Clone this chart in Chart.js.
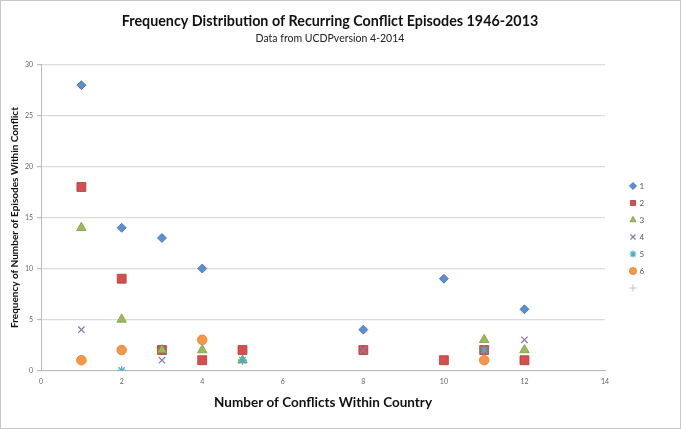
<!DOCTYPE html>
<html>
<head>
<meta charset="utf-8">
<script src="https://cdn.jsdelivr.net/npm/chart.js@4/dist/chart.umd.min.js"></script>
<style>
  html, body { margin: 0; padding: 0; background: #fff; }
  #wrap { width: 681px; height: 429px; box-sizing: border-box; border: 1px solid #c8c8c8; }
  canvas { display: block; }
</style>
</head>
<body>
<div id="wrap"><canvas id="myChart" width="679" height="427"></canvas></div>
<script>
// series data: [number of conflicts, frequency]
var labels = ['1', '2', '3', '4', '5', '6', ''];
var serie1 = [[1, 28], [2, 14], [3, 13], [4, 10], [8, 4], [10, 9], [12, 6]];
var serie2 = [[1, 18], [2, 9], [3, 2], [4, 1], [5, 2], [8, 2], [10, 1], [11, 2], [12, 1]];
var serie3 = [[1, 14], [2, 5], [3, 2], [4, 2], [5, 1], [11, 3], [12, 2]];
var serie4 = [[1, 4], [3, 1], [8, 2], [12, 3]];
var serie5 = [[2, 0], [5, 1], [11, 2]];
var serie6 = [[1, 1], [2, 2], [4, 3], [11, 1]];
var serie7 = [];

var toXY = (arr) => arr.map(p => ({ x: p[0], y: p[1] }));

// legend a la derecha: ancho fijo y bajado un poco, como en el original
const legendLayout = {
    id: 'legendLayout',
    beforeInit(chart) {
        const legend = chart.legend;
        const fitOrig = legend.fit;
        legend.fit = function () {
            fitOrig.call(this);
            this.width = 50;
        };
    },
    afterLayout(chart) {
        chart.legend.left += 16.5;
        chart.legend.top += 54;
    }
};

var ctx = document.getElementById('myChart').getContext('2d');
var myChart = new Chart(ctx, {
    type: 'scatter',
    data: {
        datasets: [
            { label: labels[0], data: toXY(serie1), order: 7, pointStyle: 'rectRot', radius: 4.5, backgroundColor: '#5b8fd4', borderColor: '#3f6fb0', borderWidth: 0.8 },
            { label: labels[1], data: toXY(serie2), order: 6, pointStyle: 'rect', radius: 6.3, backgroundColor: '#d4504e', borderColor: '#b03c3a', borderWidth: 0.8 },
            { label: labels[2], data: toXY(serie3), order: 5, pointStyle: 'triangle', radius: 5.5, backgroundColor: '#9bbb59', borderColor: '#7d9a45', borderWidth: 0.8 },
            { label: labels[3], data: toXY(serie4), order: 4, pointStyle: 'crossRot', radius: 4.5, backgroundColor: '#8a78b0', borderColor: '#8a78b0', borderWidth: 1.2 },
            { label: labels[4], data: toXY(serie5), order: 3, pointStyle: 'star', radius: 4.5, backgroundColor: '#4bacc6', borderColor: '#4bacc6', borderWidth: 1.2 },
            { label: labels[5], data: toXY(serie6), order: 2, pointStyle: 'circle', radius: 4.8, backgroundColor: '#f79646', borderColor: '#e07f30', borderWidth: 0.8 },
            { label: labels[6], data: toXY(serie7), order: 1, pointStyle: 'cross', radius: 4, backgroundColor: '#a9c6e8', borderColor: '#a9c6e8', borderWidth: 1 }
        ]
    },
    plugins: [legendLayout],
    options: {
        responsive: false,
        animation: false,
        layout: { padding: { left: 4, right: 25, top: 4, bottom: 13 } },
        plugins: {
            title: {
                display: true,
                text: 'Frequency Distribution of Recurring Conflict Episodes 1946-2013',
                color: '#111',
                font: { family: 'Lato', size: 14.3, weight: 'bold' },
                padding: { top: 8, bottom: 2 }
            },
            subtitle: {
                display: true,
                text: 'Data from UCDPversion 4-2014',
                color: '#222',
                font: { family: 'Lato', size: 10.5 },
                padding: { bottom: 20 }
            },
            legend: {
                position: 'right',
                labels: {
                    usePointStyle: true,
                    boxWidth: 5,
                    boxHeight: 5,
                    padding: 9,
                    color: '#555',
                    font: { family: 'Lato', size: 8 },
                    sort: (a, b) => a.datasetIndex - b.datasetIndex
                }
            },
            tooltip: { enabled: false }
        },
        scales: {
            x: {
                type: 'linear',
                min: 0,
                max: 14,
                ticks: { stepSize: 2, color: '#666', font: { family: 'Lato', size: 7 }, padding: 3 },
                grid: { display: false, drawTicks: true, tickLength: 4, tickColor: '#bbb' },
                border: { color: '#bbb' },
                title: {
                    display: true,
                    text: 'Number of Conflicts Within Country',
                    color: '#111',
                    font: { family: 'Lato', size: 13.5, weight: 'bold' },
                    padding: { top: 6 }
                }
            },
            y: {
                min: 0,
                max: 30,
                ticks: { stepSize: 5, color: '#666', font: { family: 'Lato', size: 7 }, padding: 4 },
                grid: { color: '#dcdcdc', lineWidth: 1.2, tickLength: 4, tickColor: '#bbb' },
                border: { color: '#bbb' },
                title: {
                    display: true,
                    text: 'Frequency of Number of Episodes Within Conflict',
                    color: '#111',
                    font: { family: 'Lato', size: 10, weight: 'bold' },
                    padding: { bottom: 0 }
                }
            }
        }
    }
});
</script>
</body>
</html>
